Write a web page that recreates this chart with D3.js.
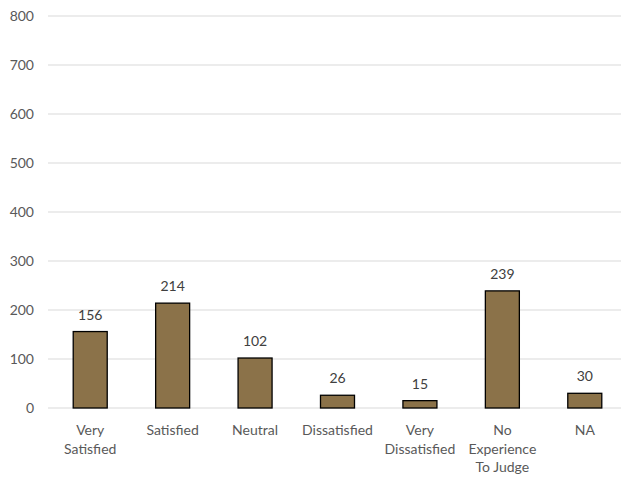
<!DOCTYPE html>
<html><head><meta charset="utf-8">
<script src="https://cdn.jsdelivr.net/npm/d3@7"></script>
<style>body{margin:0;background:#fff}svg{display:block}</style>
</head><body>
<svg id="c" width="624" height="479"></svg>
<script>
const categories = [["Very","Satisfied"],["Satisfied"],["Neutral"],["Dissatisfied"],["Very","Dissatisfied"],["No","Experience","To Judge"],["NA"]];
const values = [156, 214, 102, 26, 15, 239, 30];
const yTicks = [0,100,200,300,400,500,600,700,800];

const svg = d3.select("#c");
const font = "Lato, 'Open Sans', sans-serif";
const keys = categories.map(c => c.join(" "));
const x = d3.scaleBand().domain(keys).range([49, 626]);
const y = d3.scaleLinear().domain([0, 800]).range([408, 16]);
const bw = 34;

svg.append("g").selectAll("line").data(yTicks).join("line")
  .attr("x1", 48).attr("x2", 621)
  .attr("y1", d => y(d)).attr("y2", d => y(d))
  .attr("stroke", "#d9d9d9").attr("stroke-width", 1);

svg.append("g").selectAll("text").data(yTicks).join("text")
  .attr("x", 34).attr("y", d => y(d) + 5)
  .attr("text-anchor", "end").attr("fill", "#595959")
  .attr("font-family", font).attr("font-size", 14)
  .text(d => d);

svg.append("g").selectAll("rect").data(values).join("rect")
  .attr("x", (d, i) => x(keys[i]) + x.bandwidth() / 2 - bw / 2)
  .attr("width", bw)
  .attr("y", d => y(d))
  .attr("height", d => y(0) - y(d))
  .attr("fill", "#8b7249").attr("stroke", "#000").attr("stroke-width", 1.3);

svg.append("g").selectAll("text").data(values).join("text")
  .attr("x", (d, i) => x(keys[i]) + x.bandwidth() / 2)
  .attr("y", d => y(d) - 12)
  .attr("text-anchor", "middle").attr("fill", "#404040")
  .attr("font-family", font).attr("font-size", 14)
  .text(d => d);

const cl = svg.append("g").selectAll("text").data(categories).join("text")
  .attr("text-anchor", "middle").attr("fill", "#595959")
  .attr("font-family", font).attr("font-size", 14)
  .attr("transform", (d, i) => `translate(${x(keys[i]) + x.bandwidth() / 2},0)`);
cl.selectAll("tspan").data(d => d).join("tspan")
  .attr("x", 0).attr("y", (d, j) => 435 + j * 18.5)
  .text(d => d);
</script>
</body></html>
